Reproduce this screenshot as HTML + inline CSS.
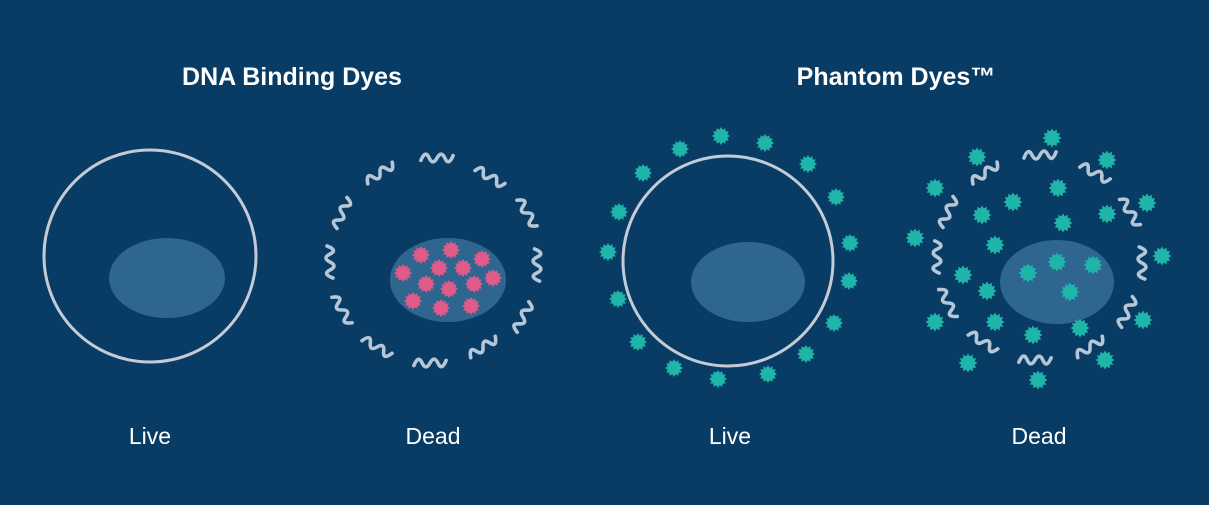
<!DOCTYPE html>
<html><head><meta charset="utf-8"><style>
html,body{margin:0;padding:0;background:#083c64;}
svg{display:block}
text{font-family:"Liberation Sans",sans-serif;fill:#fff}
</style></head><body>
<svg id="s" width="1209" height="505" viewBox="0 0 1209 505" xmlns="http://www.w3.org/2000/svg">
<rect width="1209" height="505" fill="#083c64"/>
<text x="292" y="85" font-size="25" font-weight="bold" text-anchor="middle">DNA Binding Dyes</text>
<text x="896" y="85" font-size="25" font-weight="bold" text-anchor="middle">Phantom Dyes™</text>
<text x="150" y="444" font-size="23" text-anchor="middle">Live</text>
<text x="433" y="444" font-size="23" text-anchor="middle">Dead</text>
<text x="730" y="444" font-size="23" text-anchor="middle">Live</text>
<text x="1039" y="444" font-size="23" text-anchor="middle">Dead</text>
<circle cx="150" cy="256" r="106" fill="none" stroke="#c3ccd6" stroke-width="3"/>
<ellipse cx="167" cy="278" rx="58" ry="40" fill="#2e6690"/>
<ellipse cx="448" cy="280" rx="58" ry="42" fill="#2e6690"/>
<circle cx="728" cy="261" r="105" fill="none" stroke="#c3ccd6" stroke-width="3"/>
<ellipse cx="748" cy="282" rx="57" ry="40" fill="#2e6690"/>
<ellipse cx="1057" cy="282" rx="57" ry="42" fill="#2e6690"/>
<g id="g"></g>
</svg>
<script>
var g=document.getElementById('g'),h='';
function star(x,y,r,c){var p=[];for(var i=0;i<24;i++){var a=i*Math.PI/12,rr=i%2?r*0.72:r;p.push((x+rr*Math.cos(a)).toFixed(1)+','+(y+rr*Math.sin(a)).toFixed(1));}h+='<polygon points="'+p.join(' ')+'" fill="'+c+'"/>';}
function sq(x,y,cx,cy){var a=Math.atan2(y-cy,x-cx)*180/Math.PI+90;h+='<path d="M-16,3 q4,-11 8,-3 t8,0 t8,0 t8,-3" fill="none" stroke="#b5c6d6" stroke-width="3.6" stroke-linecap="round" stroke-linejoin="round" transform="translate('+x+','+y+') rotate('+a.toFixed(1)+')"/>';}
[[437,158],[380,173],[490,177],[342,213],[527,213],[330,262],[537,265],[342,310],[523,317],[377,347],[483,347],[430,363]].forEach(function(p){sq(p[0],p[1],433,262);});
[[1040,155],[985,173],[1095,173],[948,212],[1130,212],[937,257],[1142,263],[948,303],[1127,312],[983,342],[1090,347],[1035,360]].forEach(function(p){sq(p[0],p[1],1040,262);});
[[421,255],[451,250],[482,259],[403,273],[439,268],[463,268],[493,278],[426,284],[449,289],[474,284],[413,301],[441,308],[471,306]].forEach(function(p){star(p[0],p[1],9,'#e05a8a');});
[[721,136],[765,143],[680,149],[808,164],[643,173],[836,197],[619,212],[850,243],[608,252],[849,281],[618,299],[834,323],[638,342],[806,354],[674,368],[768,374],[718,379]].forEach(function(p){star(p[0],p[1],9,'#1fb5a8');});
[[1052,138],[977,157],[1107,160],[935,188],[1058,188],[1013,202],[982,215],[1107,214],[1147,203],[1063,223],[915,238],[995,245],[1162,256],[963,275],[1028,273],[1057,262],[1093,265],[1070,292],[987,291],[935,322],[995,322],[1033,335],[1080,328],[1143,320],[968,363],[1105,360],[1038,380]].forEach(function(p){star(p[0],p[1],9.5,'#1fb5a8');});
g.innerHTML=h;
</script>
</body></html>
